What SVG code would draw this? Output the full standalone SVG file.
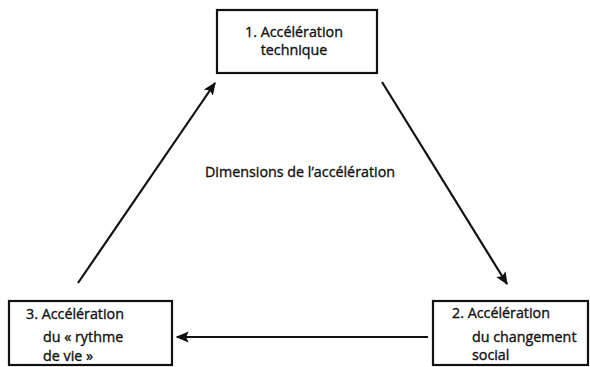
<svg xmlns="http://www.w3.org/2000/svg" width="590" height="367" viewBox="0 0 590 367">
  <style>
    .box { fill: #fff; stroke: #111; stroke-width: 2.2; }
    .lbl { font-family: "Open Sans", "Noto Sans", "Liberation Sans", sans-serif; font-size: 14.3px; fill: #111; stroke: #111; stroke-width: 0.35; }
    .edge { stroke: #111; stroke-width: 2.2; fill: none; marker-end: url(#head); }
  </style>
  <defs>
    <marker id="head" viewBox="0 0 10 10" refX="9" refY="5" markerWidth="13" markerHeight="13" markerUnits="userSpaceOnUse" orient="auto">
      <path d="M0,0.8 L10,5 L0,9.2 L2,5 Z" fill="#111"/>
    </marker>
  </defs>

  <rect width="590" height="367" fill="#fff"/>

  <g id="connectors">
    <line class="edge" x1="382" y1="82" x2="507" y2="284"/>
    <line class="edge" x1="428" y1="337" x2="177" y2="337"/>
    <line class="edge" x1="78" y1="283" x2="215" y2="83"/>
  </g>

  <g id="node-technique">
    <rect class="box" x="217" y="10" width="160" height="63"/>
    <text class="lbl" x="294" y="37" text-anchor="middle">1. Accélération</text>
    <text class="lbl" x="294" y="55" text-anchor="middle">technique</text>
  </g>

  <g id="node-changement">
    <rect class="box" x="433" y="301" width="155" height="64"/>
    <text class="lbl" x="452" y="318">2. Accélération</text>
    <text class="lbl" x="472" y="342">du changement</text>
    <text class="lbl" x="472" y="360">social</text>
  </g>

  <g id="node-rythme">
    <rect class="box" x="9" y="301" width="163" height="64"/>
    <text class="lbl" x="26" y="319">3. Accélération</text>
    <text class="lbl" x="43" y="342">du « rythme</text>
    <text class="lbl" x="43" y="361">de vie »</text>
  </g>

  <text id="title" class="lbl" x="300" y="177" text-anchor="middle">Dimensions de l’accélération</text>
</svg>
